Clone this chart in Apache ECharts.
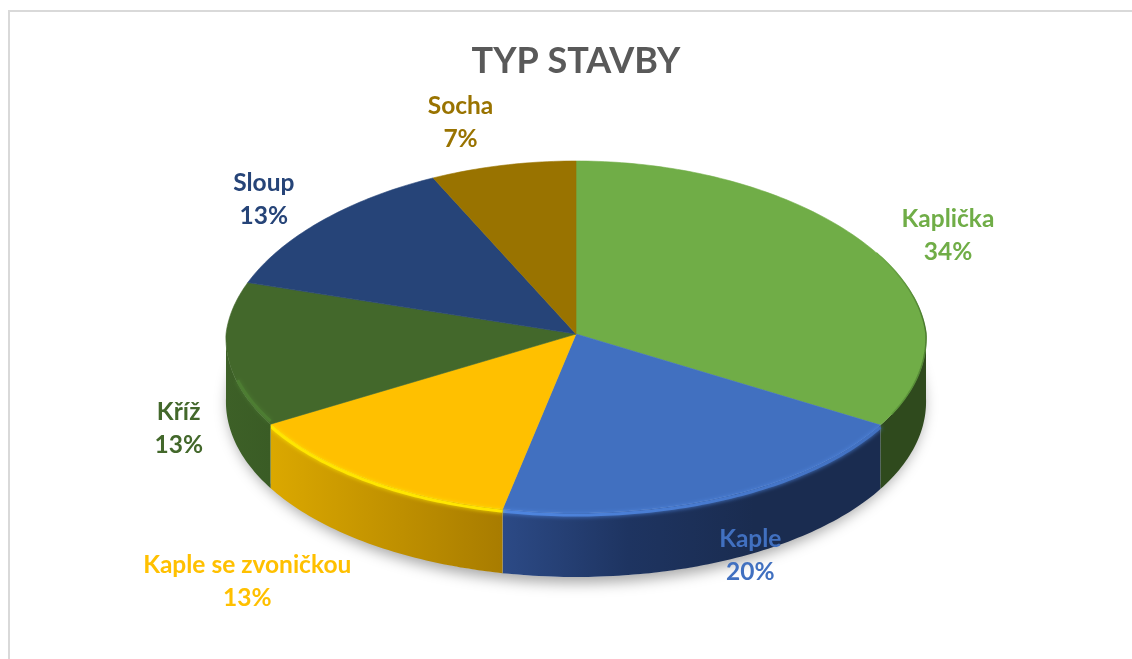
<!DOCTYPE html>
<html>
<head>
<meta charset="utf-8">
<title>Typ stavby</title>
<script src="https://cdn.jsdelivr.net/npm/echarts@6/dist/echarts.min.js"></script>
<style>
  html, body { margin: 0; padding: 0; background: #fff; }
  #chartPie { width: 1132px; height: 659px; }
</style>
</head>
<body>
<div id="chartPie"></div>
<script>
var categories = ['Kaplička', 'Kaple', 'Kaple se zvoničkou', 'Kříž', 'Sloup', 'Socha']
var shares = [33.5, 19.8, 13.3, 13.2, 13.1, 7.1]

var sliceColors = ['#70ad47', '#4170c0', '#ffc000', '#43682b', '#264478', '#997300']
var rimColors = [null, '#4f86e0', '#ffe600', '#4d7d32', null, null]
var wallColors = [
  ['#2f4a1d', '#2f4a1d'],
  ['#2c4a86', '#1e3461', '#1a2c50', '#1a2c50'],
  ['#dba800', '#a87c00'],
  ['#3d6027', '#3a5c25'],
  null,
  null
]
// label nudge from the radial anchor, in px
var labelNudges = [[18, 4], [2, 25], [-79, 73], [21, 70], [-7, 1], [-28, -9]]

var cx = 576
var cy = 334
var rx = 350
var ryBack = 173
var ryFront = 179
var depth = 64
var labelK = 1.2
var total = shares.reduce(function(a, b) { return a + b }, 0)

// angle in degrees, 0 at the top and clockwise; the back of the disc is
// a little narrower than the front, as in a perspective view
function pt(deg, dy, k) {
  var r = deg * Math.PI / 180
  var c = Math.cos(r)
  var taper = c > 0 ? 1 - 0.06 * c : 1 - 0.02 * c
  var ry = c > 0 ? ryBack : ryFront
  return [cx + rx * (k || 1) * taper * Math.sin(r), cy + (dy || 0) - ry * (k || 1) * c]
}
function arc(from, to, dy) {
  var pts = []
  var n = Math.max(2, Math.ceil(Math.abs(to - from)))
  for (var i = 0; i <= n; i++) {
    pts.push(pt(from + (to - from) * i / n, dy))
  }
  return pts
}
function startOf(idx) {
  var sum = 0
  for (var i = 0; i < idx; i++) sum += shares[i]
  return sum / total * 360
}
function stopsOf(colors) {
  return colors.map(function(color, j) {
    return { offset: j / (colors.length - 1), color: color }
  })
}

function renderSlice(params, api) {
  var i = params.dataIndex
  var from = startOf(i)
  var to = from + api.value(0) / total * 360
  var mid = (from + to) / 2
  var children = []

  // only the front half of the rim has a visible wall
  var wallFrom = Math.max(from, 90)
  var wallTo = Math.min(to, 270)
  if (wallTo > wallFrom && wallColors[i]) {
    children.push({
      type: 'polygon',
      shape: { points: arc(wallFrom, wallTo, 0).concat(arc(wallTo, wallFrom, depth)) },
      style: {
        fill: { type: 'linear', x: 0, y: 0, x2: 1, y2: 0, colorStops: stopsOf(wallColors[i]) }
      }
    })
  }

  children.push({
    type: 'polygon',
    shape: { points: [[cx, cy]].concat(arc(from, to, 0)) },
    style: { fill: sliceColors[i], stroke: sliceColors[i], lineWidth: 0.6 }
  })

  if (rimColors[i]) {
    var rimOnTop = to > 240 // the left part of the rim lies on the top face
    children.push({
      type: 'polyline',
      shape: { points: arc(wallFrom, rimOnTop ? wallTo - 16 : wallTo, rimOnTop ? -3 : 2) },
      style: {
        fill: 'none',
        stroke: {
          type: 'linear', x: 0, y: 0, x2: 1, y2: 0,
          colorStops: [
            { offset: 0, color: rimColors[i] },
            { offset: 1, color: i === 1 ? sliceColors[i] : rimColors[i] }
          ]
        },
        lineWidth: 3,
        shadowBlur: 4,
        shadowColor: rimColors[i]
      }
    })
  }
  if (i === 0) {
    // darker soft edge on the right of the disc, fading in from the top
    children.push({
      type: 'polyline',
      shape: { points: arc(62, to - 4, 0) },
      style: {
        fill: 'none',
        lineWidth: 1.5,
        stroke: {
          type: 'linear', x: 0, y: 0, x2: 0, y2: 1,
          colorStops: [
            { offset: 0, color: '#70ad47' },
            { offset: 0.45, color: '#4a7a2f' },
            { offset: 1, color: '#5f9a3c' }
          ]
        }
      }
    })
  }

  var anchor = pt(mid, 0, labelK)
  children.push({
    type: 'text',
    z2: 50,
    style: {
      text: categories[i] + '\n' + Math.round(api.value(0)) + '%',
      x: anchor[0] + labelNudges[i][0],
      y: anchor[1] + labelNudges[i][1],
      align: 'center',
      verticalAlign: 'middle',
      fill: sliceColors[i],
      font: 'bold 24.5px Lato, sans-serif',
      lineHeight: 33
    }
  })
  return { type: 'group', children: children }
}

var chartPie = echarts.init(document.getElementById('chartPie'))
chartPie.setOption({
  animation: false,
  backgroundColor: '#fff',
  title: {
    text: 'TYP STAVBY',
    left: 571,
    top: 38,
    textAlign: 'center',
    textStyle: {
      color: '#595959',
      fontFamily: 'Lato, sans-serif',
      fontWeight: 'bold',
      fontSize: 36
    }
  },
  graphic: [
    { type: 'rect', silent: true, shape: { x: 8, y: 10, width: 1124, height: 2 }, style: { fill: '#d9d9d9' } },
    { type: 'rect', silent: true, shape: { x: 8, y: 10, width: 2, height: 649 }, style: { fill: '#d9d9d9' } },
    {
      // soft shadow under the disc
      type: 'ellipse',
      silent: true,
      z: -1,
      shape: { cx: cx, cy: cy + depth, rx: rx - 2, ry: ryFront },
      style: { fill: '#fff', shadowBlur: 14, shadowOffsetY: 6, shadowColor: 'rgba(0,0,0,0.35)' }
    }
  ],
  series: [{
    type: 'custom',
    coordinateSystem: 'none',
    silent: true,
    renderItem: renderSlice,
    data: shares.map(function(v) { return [v] })
  }]
})
</script>
</body>
</html>
